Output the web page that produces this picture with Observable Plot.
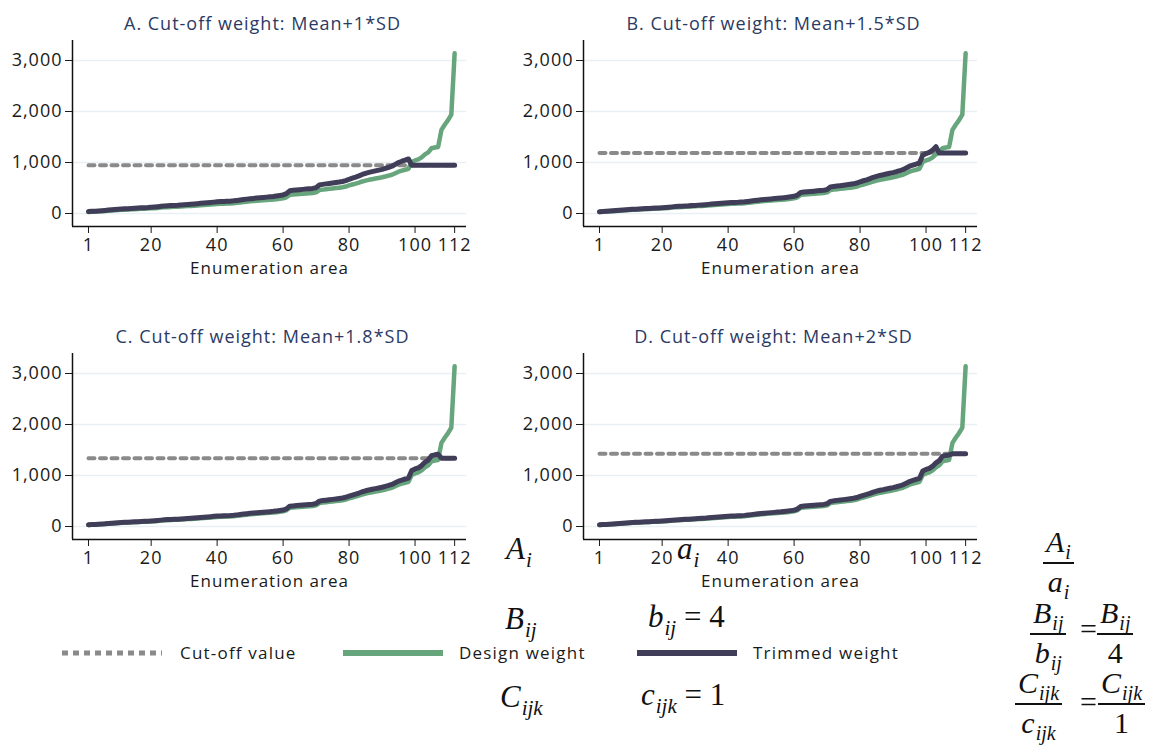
<!DOCTYPE html>
<html><head><meta charset="utf-8">
<script src="https://cdn.jsdelivr.net/npm/d3@7"></script>
<script src="https://cdn.jsdelivr.net/npm/@observablehq/plot@0.6"></script>
<style>
body{margin:0;background:#fff;}
#root{position:relative;width:1157px;height:754px;overflow:hidden;font-family:"Open Sans",sans-serif;}
.panel{position:absolute;}
.panel svg{overflow:visible;letter-spacing:1px;}
.math{position:absolute;font-family:"Liberation Serif",serif;font-style:italic;font-size:31px;color:#111;white-space:nowrap;line-height:1;}
.math sub{font-size:21px;vertical-align:-8px;line-height:0;margin-left:1px;}
.up{font-style:normal;}
.frac{position:absolute;display:inline-flex;flex-direction:column;align-items:center;font-family:"Liberation Serif",serif;font-style:italic;font-size:30px;color:#111;line-height:1;}
.frac .num{padding:0 3px 5px 3px;border-bottom:2px solid #111;}
.frac .den{padding-top:3px;}
.frac sub{font-size:20px;vertical-align:-7px;line-height:0;margin-left:1px;}
.eq{position:absolute;font-family:"Liberation Serif",serif;font-size:30px;color:#111;line-height:1;}
#legend{position:absolute;left:0;top:630px;}
#legend text{letter-spacing:1.2px;}
</style></head><body><div id="root"></div>
<script>
const designWeight = [30,35,38,42,46,50,55,60,64,68, 72,75,78,81,85,88,91,94,97,101, 105,110,115,120,124,127,130,133,137,141, 145,149,153,158,163,168,173,178,183,188, 191,193,195,198,203,210,217,224,231,238, 243,248,253,258,263,268,274,281,289,298, 318,365,372,378,383,388,393,398,403,415, 458,468,476,483,490,498,506,515,528,550, 568,585,605,628,645,660,672,685,697,710, 725,742,760,790,820,840,858,876,1010,1040, 1060,1100,1160,1200,1280,1295,1305,1640,1740,1830,1940,3140];
const trimmedA = [37,43,46,51,56,61,67,73,78,83, 88,92,95,99,104,107,111,115,118,123, 128,134,140,146,151,155,159,162,167,172, 177,182,187,193,199,205,211,217,223,229, 233,235,238,242,248,256,265,273,282,290, 296,303,309,315,321,327,334,343,353,364, 388,445,454,461,467,473,479,486,492,506, 559,571,581,589,598,608,617,628,644,671, 693,714,738,766,787,805,820,836,850,866, 885,905,927,964,1000,1025,1047,1069,945,945, 945,945,945,945,945,945,945,945,945,945,945,945];
const trimmedB = [34,40,43,47,52,57,62,68,72,77, 81,85,88,92,96,99,103,106,110,114, 119,124,130,136,140,144,147,150,155,159, 164,168,173,179,184,190,195,201,207,212, 216,218,220,224,229,237,245,253,261,269, 275,280,286,292,297,303,310,318,327,337, 359,412,420,427,433,438,444,450,455,469, 518,529,538,546,554,563,572,582,597,622, 642,661,684,710,729,746,759,774,788,802, 819,838,859,893,927,949,970,990,1141,1175, 1198,1243,1311,1185,1185,1185,1185,1185,1185,1185,1185,1185];
const trimmedC = [33,38,41,46,50,54,60,65,69,74, 78,81,85,88,92,95,99,102,105,110, 114,119,125,130,135,138,141,144,149,153, 157,162,166,171,177,182,188,193,199,204, 207,209,212,215,220,228,235,243,251,258, 264,269,275,280,285,291,297,305,314,323, 345,396,404,410,416,421,426,432,437,450, 497,508,516,524,532,540,549,559,573,597, 616,635,656,681,700,716,729,743,756,770, 787,805,825,857,890,911,931,950,1096,1128, 1150,1194,1259,1302,1389,1405,1416,1340,1340,1340,1340,1340];
const trimmedD = [32,38,41,45,49,54,59,65,69,73, 77,81,84,87,91,95,98,101,104,109, 113,118,124,129,133,137,140,143,147,152, 156,160,164,170,175,181,186,191,197,202, 205,207,210,213,218,226,233,241,248,256, 261,267,272,277,283,288,295,302,311,320, 342,392,400,406,412,417,422,428,433,446, 492,503,512,519,527,535,544,554,568,591, 611,629,650,675,693,710,722,736,749,763, 779,798,817,849,882,903,922,942,1086,1118, 1140,1183,1247,1290,1376,1392,1403,1425,1425,1425,1425,1425];
const cutoffs = [945, 1185, 1340, 1425];
const panelTitles = ["A. Cut-off weight: Mean+1*SD","B. Cut-off weight: Mean+1.5*SD","C. Cut-off weight: Mean+1.8*SD","D. Cut-off weight: Mean+2*SD"];
const trimmedSeries = [trimmedA, trimmedB, trimmedC, trimmedD];
const xTicks = [1,20,40,60,80,100,112];
const yTicks = [0,1000,2000,3000];
const xLabel = "Enumeration area";
const legendLabels = ["Cut-off value","Design weight","Trimmed weight"];

const xDomain = [-3.85, 115.6];
const yDomain = [-255, 3392];
const FONT = "'Open Sans', sans-serif";
const C_GREEN = "#67a57c", C_DARK = "#3f3d58", C_CUT = "#8a8a8a", C_TITLE = "#2b3a64";

function panel(trimmed, cutoff, title) {
  const design = designWeight.map((w,i)=>({ea:i+1, w}));
  const trim = trimmed.map((w,i)=>({ea:i+1, w}));
  const cut = [{ea:1, w:cutoff},{ea:designWeight.length, w:cutoff}];
  return Plot.plot({
    width:480, height:290, marginLeft:72, marginRight:14, marginTop:40, marginBottom:64,
    style:{fontFamily:FONT, fontSize:"18px", color:"#1a1a1a", background:"transparent", overflow:"visible"},
    x:{domain:xDomain, ticks:xTicks, tickSize:7, tickPadding:5, label:null},
    y:{domain:yDomain, ticks:yTicks, tickSize:7, tickPadding:3, tickFormat:d3.format(","), label:null},
    marks:[
      Plot.ruleY(yTicks, {stroke:"#e8f0f3", strokeWidth:1.5}),
      Plot.ruleX([xDomain[0]], {stroke:"#111", strokeWidth:1.5}),
      Plot.ruleY([yDomain[0]], {stroke:"#111", strokeWidth:1.5}),
      Plot.line(cut, {x:"ea", y:"w", stroke:C_CUT, strokeWidth:4, strokeDasharray:"6,5.5"}),
      Plot.line(design, {x:"ea", y:"w", stroke:C_GREEN, strokeWidth:4.5, strokeLinejoin:"round", strokeLinecap:"round"}),
      Plot.line(trim, {x:"ea", y:"w", stroke:C_DARK, strokeWidth:5, strokeLinejoin:"round", strokeLinecap:"round"}),
      Plot.text([xLabel], {frameAnchor:"bottom", lineAnchor:"middle", dy:42, fontSize:17, fill:"#1a1a1a"}),
      Plot.text([title], {frameAnchor:"top", lineAnchor:"middle", dy:-16, dx:-7, fontSize:18, fill:C_TITLE})
    ]
  });
}

const root = document.getElementById("root");
const pos = [[0,0],[511,0],[0,313],[511,313]];
pos.forEach(([l,t],k)=>{
  const d = document.createElement("div");
  d.className = "panel"; d.style.left = l+"px"; d.style.top = t+"px";
  d.appendChild(panel(trimmedSeries[k], cutoffs[k], panelTitles[k]));
  root.appendChild(d);
});

// legend
const lg = document.createElement("div");
lg.id = "legend";
lg.innerHTML = `<svg width="1000" height="46" style="font-family:${FONT};font-size:17px">
<line x1="62" x2="162" y1="23" y2="23" stroke="${C_CUT}" stroke-width="5" stroke-dasharray="6,5"/>
<text x="180" y="29" fill="#1a1a1a">${legendLabels[0]}</text>
<line x1="343" x2="443" y1="23" y2="23" stroke="${C_GREEN}" stroke-width="6"/>
<text x="459" y="29" fill="#1a1a1a">${legendLabels[1]}</text>
<line x1="637" x2="737" y1="23" y2="23" stroke="${C_DARK}" stroke-width="6"/>
<text x="753" y="29" fill="#1a1a1a">${legendLabels[2]}</text>
</svg>`;
root.appendChild(lg);

// math fragments
function add(html, cls, left, top){
  const e = document.createElement("div");
  e.className = cls; e.style.left = left+"px"; e.style.top = top+"px";
  e.innerHTML = html; root.appendChild(e);
}
add("A<sub>i</sub>", "math", 506, 533);
add("a<sub>i</sub>", "math", 677, 533);
add("B<sub>ij</sub>", "math", 505, 603);
add("b<sub>ij</sub> <span class='up'>= 4</span>", "math", 648, 601);
add("C<sub>ijk</sub>", "math", 500, 681);
add("c<sub>ijk</sub> <span class='up'>= 1</span>", "math", 641, 679);
add("<span class='num'>A<sub>i</sub></span><span class='den'>a<sub>i</sub></span>", "frac", 1043, 527);
add("<span class='num'>B<sub>ij</sub></span><span class='den'>b<sub>ij</sub></span>", "frac", 1030, 598);
add("=", "eq", 1080, 614);
add("<span class='num'>B<sub>ij</sub></span><span class='den' style='font-style:normal'>4</span>", "frac", 1097, 598);
add("<span class='num'>C<sub>ijk</sub></span><span class='den'>c<sub>ijk</sub></span>", "frac", 1015, 668);
add("=", "eq", 1080, 687);
add("<span class='num'>C<sub>ijk</sub></span><span class='den' style='font-style:normal'>1</span>", "frac", 1098, 668);
</script>
</body></html>
